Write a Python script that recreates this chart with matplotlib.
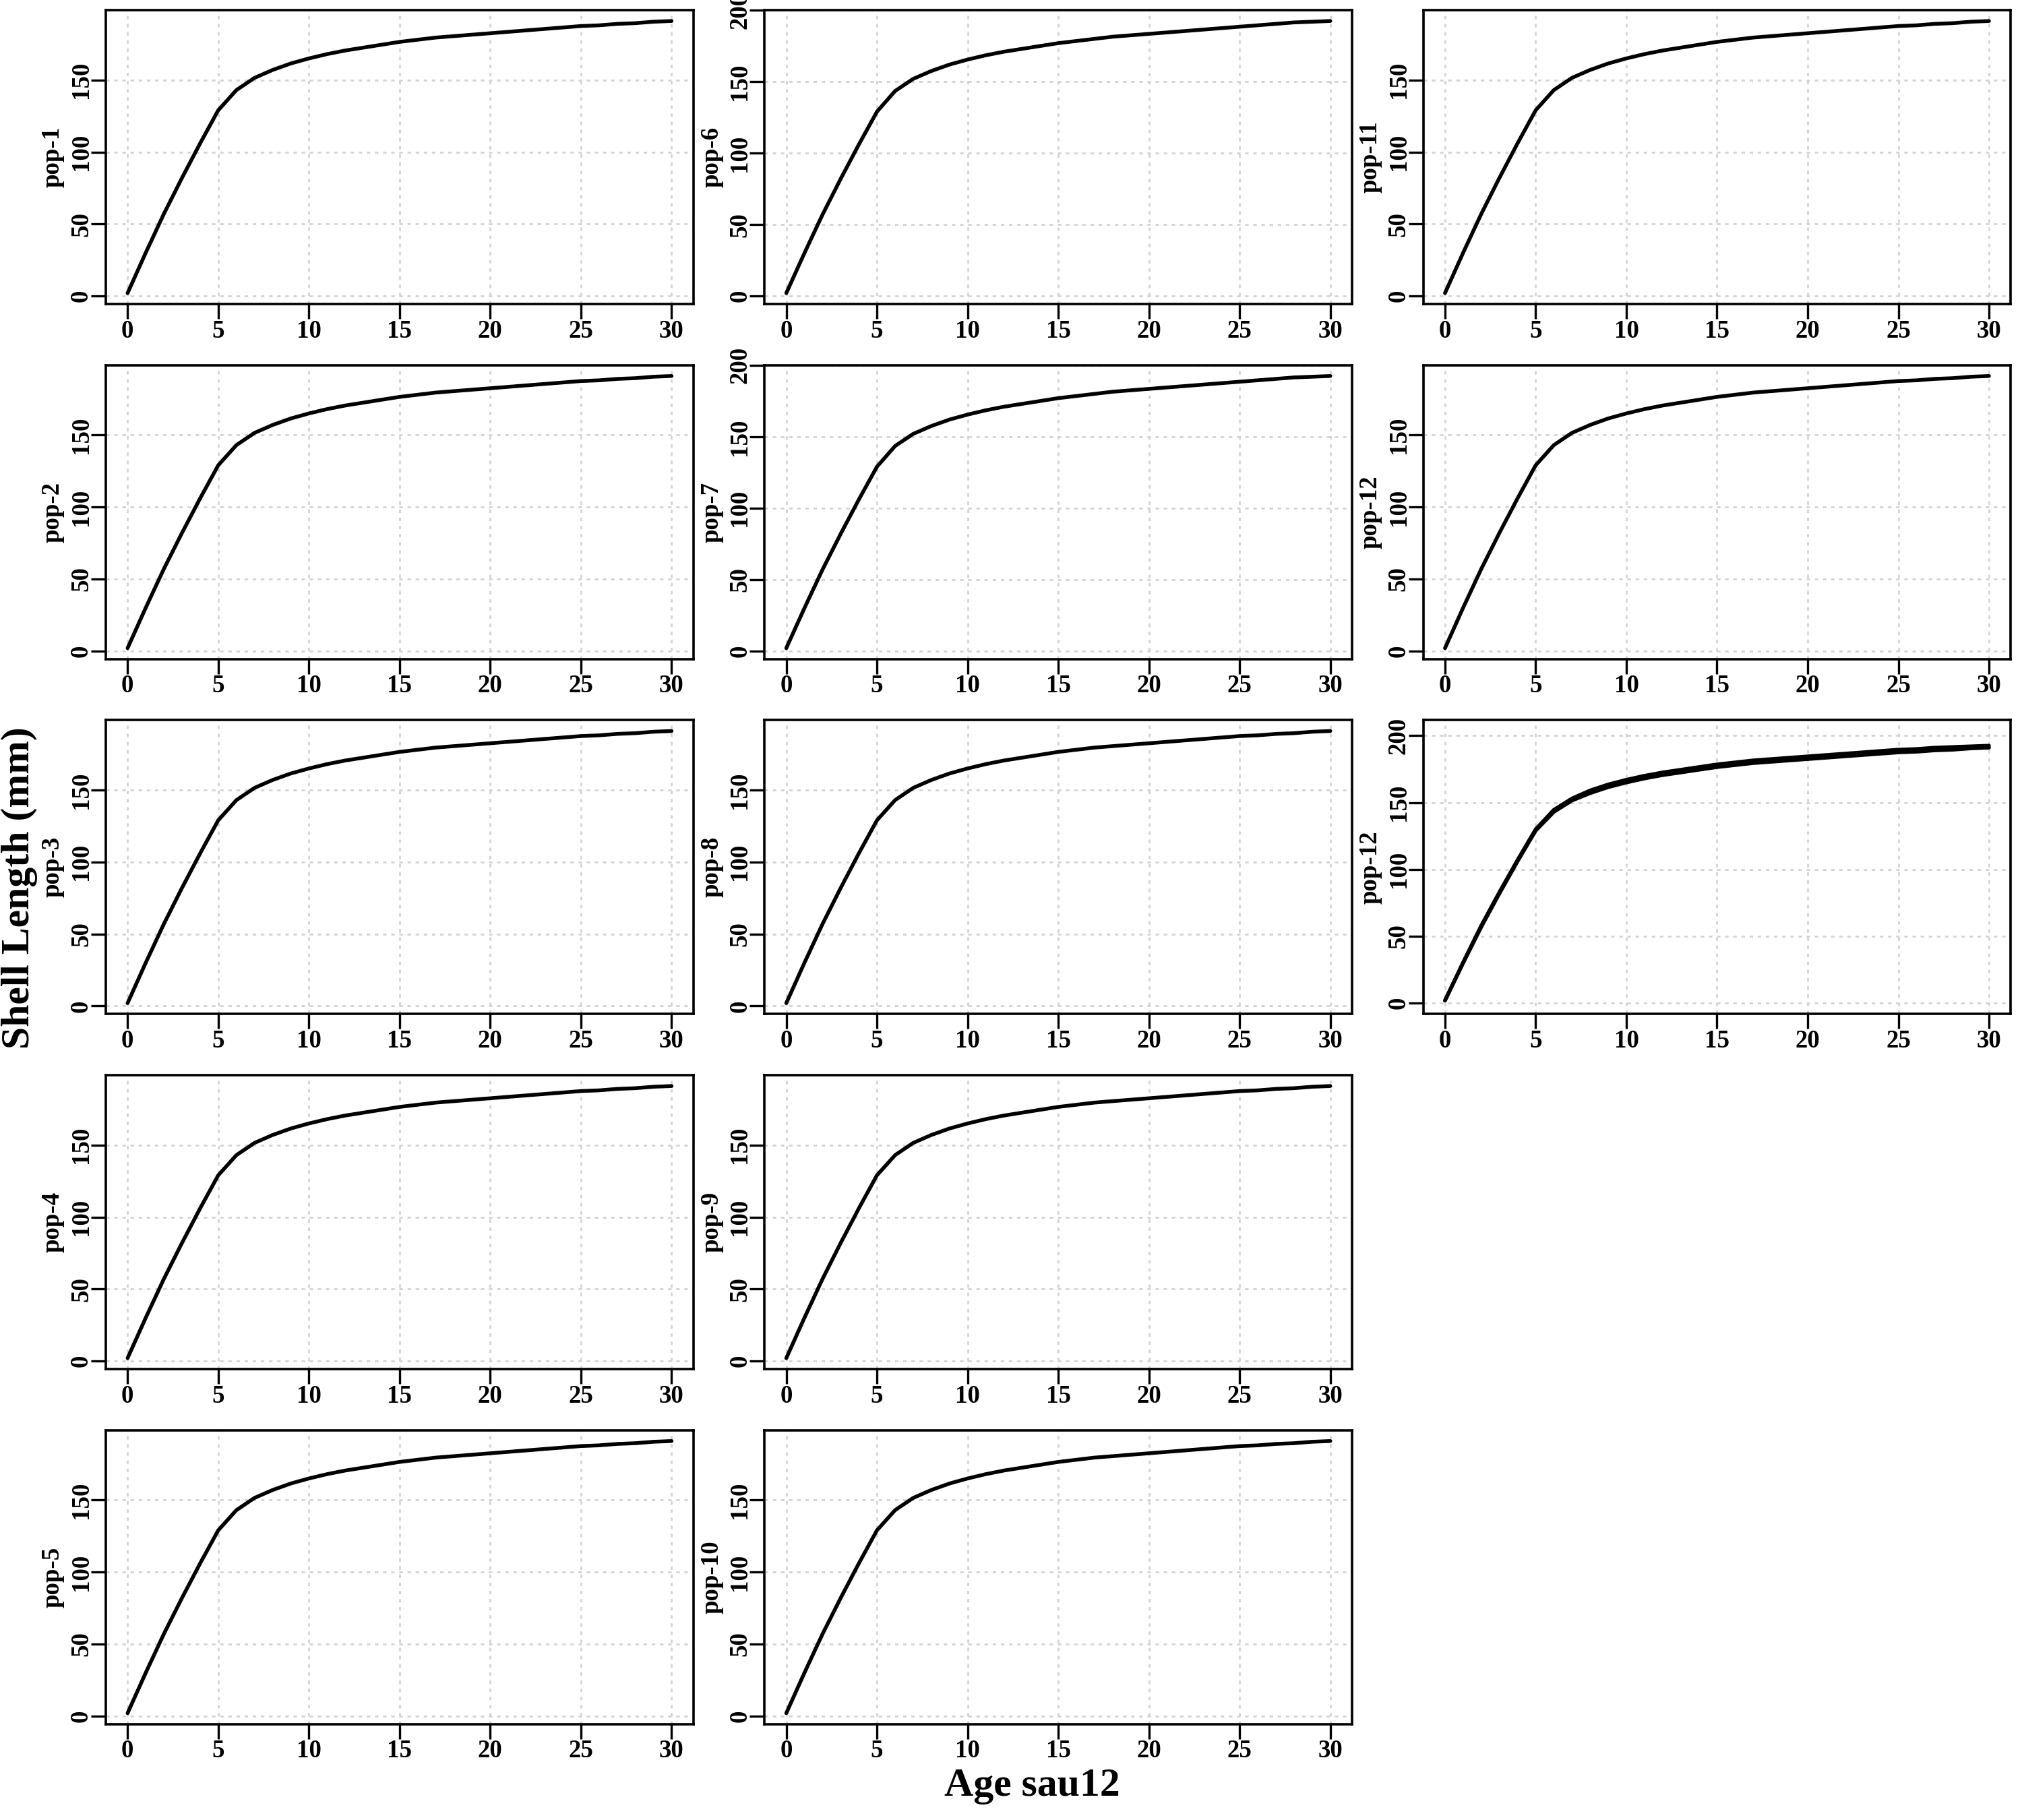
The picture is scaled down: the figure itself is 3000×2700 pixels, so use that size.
import matplotlib
matplotlib.use("Agg")
import matplotlib.pyplot as plt

plt.rcParams['font.family'] = ['Liberation Serif', 'DejaVu Serif']
plt.rcParams['font.weight'] = 'bold'

# ---- data ----
ages = list(range(0, 31))
length_a = [2, 30, 57, 82, 106, 129, 143, 151.5, 157, 161.5, 165, 168, 170.5, 172.5,
            174.5, 176.5, 178, 179.5, 180.5, 181.5, 182.5, 183.5, 184.5, 185.5, 186.5,
            187.5, 188, 189, 189.5, 190.5, 191]
length_b = [2, 30, 57, 82, 106, 129, 143.5, 152, 157.5, 162, 165.5, 168.5, 171, 173,
            175, 177, 178.5, 180, 181.5, 182.5, 183.5, 184.5, 185.5, 186.5, 187.5,
            188.5, 189.5, 190.5, 191.5, 192, 192.5]
length_hi = [2, 30.5, 58, 83, 107, 130, 144.5, 153, 159, 163.5, 167, 170, 172.5, 174.5,
             176.5, 178.5, 180, 181.5, 182.5, 183.5, 184.5, 185.5, 186.5, 187.5, 188.5,
             189.5, 190, 191, 191.5, 192, 192.5]

pop_labels = ["pop-1", "pop-2", "pop-3", "pop-4", "pop-5",
              "pop-6", "pop-7", "pop-8", "pop-9", "pop-10",
              "pop-11", "pop-12", "pop-12"]
pop_series = [[length_a], [length_a], [length_a], [length_a], [length_a],
              [length_b], [length_b], [length_a], [length_a], [length_a],
              [length_a], [length_a], [length_a, length_hi]]
special_ylim = {12: (-8.1, 211.6)}

x_ticks = [0, 5, 10, 15, 20, 25, 30]
y_ticks = [0, 50, 100, 150, 200]

# ---- layout ----
fig = plt.figure(figsize=(15, 13.5), dpi=200)
col_left0 = 0.05233
col_pitch = 0.32577
col_w = 0.29057
row_top0 = 0.99444
row_pitch = 0.19506
row_h = 0.16148

FS = 13.3

for i, (lab, series) in enumerate(zip(pop_labels, pop_series)):
    c, r = divmod(i, 5)
    left = col_left0 + c * col_pitch
    top = row_top0 - r * row_pitch
    ax = fig.add_axes([left, top - row_h, col_w, row_h])
    for s in series:
        ax.plot(ages, s, color='black', lw=2.0, solid_joinstyle='round',
                solid_capstyle='round', zorder=3)
    xmin, xmax = min(ages), max(ages)
    ax.set_xlim(xmin - 0.04 * (xmax - xmin), xmax + 0.04 * (xmax - xmin))
    if i in special_ylim:
        ylo, yhi = special_ylim[i]
    else:
        vals = [v for s in series for v in s]
        lo, hi = min(vals), max(vals)
        ylo, yhi = lo - 0.04 * (hi - lo), hi + 0.04 * (hi - lo)
    ax.set_ylim(ylo, yhi)
    ax.set_xticks(x_ticks)
    yt = [t for t in y_ticks if ylo <= t <= yhi]
    ax.set_yticks(yt)
    ax.set_yticklabels([str(t) for t in yt], rotation=90, va='center')
    ax.set_xticklabels([str(t) for t in x_ticks])
    ax.grid(True, color='#d3d3d3', linestyle=(0, (1.85, 2.5)), linewidth=1.0, zorder=0)
    ax.set_axisbelow(True)
    ax.tick_params(axis='both', direction='out', length=8.0, width=1.2,
                   labelsize=FS, color='black')
    ax.tick_params(axis='y', pad=-1.2)
    ax.tick_params(axis='x', pad=0.2)
    for sp in ax.spines.values():
        sp.set_linewidth(1.3)
    for t in ax.get_xticklabels() + ax.get_yticklabels():
        t.set_fontweight('bold')
    ax.text(-0.070, 0.5, lab, transform=ax.transAxes, rotation=90,
            ha='right', va='center', fontsize=FS, fontweight='bold')

fig.text(0.0096, 0.512, "Shell Length (mm)", rotation=90, ha='center', va='center',
         fontsize=21.5, fontweight='bold')
fig.text(0.5105, 0.01333, "Age sau12", ha='center', va='baseline',
         fontsize=21.5, fontweight='bold')

fig.savefig("out.png", dpi=200, facecolor='white')
